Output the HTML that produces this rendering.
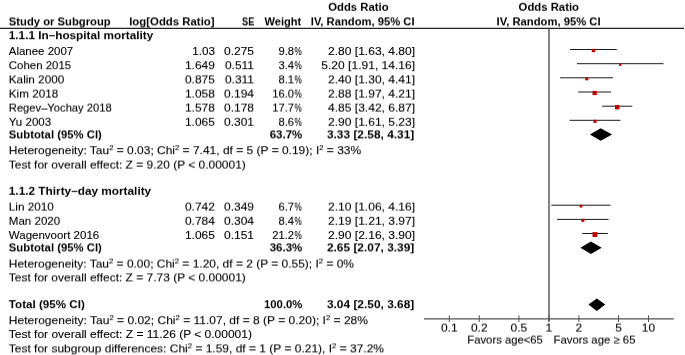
<!DOCTYPE html>
<html><head><meta charset="utf-8"><title>Forest plot</title>
<style>
html,body{margin:0;padding:0;background:#fff;}
body{width:685px;height:355px;overflow:hidden;}
svg{display:block;}
text{font-family:"Liberation Sans",sans-serif;font-size:11.2px;fill:#000;stroke:#000;stroke-width:0.1px;}
.b{font-weight:bold;stroke:none;}
</style></head><body>
<svg width="685" height="355" viewBox="0 0 685 355">
<rect width="685" height="355" fill="#fff"/>

<line x1="0" y1="28.3" x2="684" y2="28.3" stroke="#222" stroke-width="1.15"/>
<line x1="549.0" y1="28.5" x2="549.0" y2="321.5" stroke="#505050" stroke-width="1.4"/>
<line x1="424" y1="318.9" x2="673.8" y2="318.9" stroke="#505050" stroke-width="1.1"/>
<line x1="570.0" y1="49.5" x2="616.8" y2="49.5" stroke="#1a1a1a" stroke-width="1"/>
<rect x="591.78" y="48.84" width="3.32" height="3.32" fill="#c40000"/>
<line x1="576.9" y1="63.7" x2="663.5" y2="63.7" stroke="#1a1a1a" stroke-width="1"/>
<rect x="619.01" y="63.47" width="2.4" height="2.4" fill="#c40000"/>
<line x1="560.2" y1="77.8" x2="613.1" y2="77.8" stroke="#1a1a1a" stroke-width="1"/>
<rect x="585.26" y="77.33" width="3.02" height="3.02" fill="#c40000"/>
<line x1="578.2" y1="92.0" x2="611.1" y2="92.0" stroke="#1a1a1a" stroke-width="1"/>
<rect x="592.54" y="90.89" width="4.24" height="4.24" fill="#c40000"/>
<line x1="602.1" y1="106.2" x2="632.3" y2="106.2" stroke="#1a1a1a" stroke-width="1"/>
<rect x="614.97" y="104.95" width="4.46" height="4.46" fill="#c40000"/>
<line x1="569.5" y1="120.3" x2="620.5" y2="120.3" stroke="#1a1a1a" stroke-width="1"/>
<rect x="593.40" y="119.79" width="3.11" height="3.11" fill="#c40000"/>
<line x1="551.4" y1="205.2" x2="610.6" y2="205.2" stroke="#1a1a1a" stroke-width="1"/>
<rect x="579.62" y="204.83" width="2.74" height="2.74" fill="#c40000"/>
<line x1="557.1" y1="219.4" x2="608.5" y2="219.4" stroke="#1a1a1a" stroke-width="1"/>
<rect x="581.27" y="218.83" width="3.07" height="3.07" fill="#c40000"/>
<line x1="582.2" y1="233.5" x2="607.8" y2="233.5" stroke="#1a1a1a" stroke-width="1"/>
<rect x="592.51" y="232.10" width="4.88" height="4.88" fill="#c40000"/>
<polygon points="589.9,134.4 600.7,128.2 612.1,134.4 600.7,140.7" fill="#000"/>
<polygon points="580.4,247.8 590.9,241.6 601.7,247.8 590.9,254.1" fill="#000"/>
<polygon points="588.5,304.6 596.8,298.4 605.3,304.6 596.8,310.9" fill="#000"/>
<line x1="449.3" y1="315.4" x2="449.3" y2="322.0" stroke="#505050" stroke-width="1"/>
<line x1="479.3" y1="315.4" x2="479.3" y2="322.0" stroke="#505050" stroke-width="1"/>
<line x1="518.9" y1="315.4" x2="518.9" y2="322.0" stroke="#505050" stroke-width="1"/>
<line x1="548.9" y1="315.4" x2="548.9" y2="322.0" stroke="#505050" stroke-width="1"/>
<line x1="578.9" y1="315.4" x2="578.9" y2="322.0" stroke="#505050" stroke-width="1"/>
<line x1="618.5" y1="315.4" x2="618.5" y2="322.0" stroke="#505050" stroke-width="1"/>
<line x1="648.5" y1="315.4" x2="648.5" y2="322.0" stroke="#505050" stroke-width="1"/>
<defs>
<filter id="u4" x="0" y="0" width="685" height="355" filterUnits="userSpaceOnUse" color-interpolation-filters="sRGB"><feConvolveMatrix order="1 3" kernelMatrix="0.4 0.6 0" divisor="1" edgeMode="none" preserveAlpha="false"/></filter>
<filter id="u2" x="0" y="0" width="685" height="355" filterUnits="userSpaceOnUse" color-interpolation-filters="sRGB"><feConvolveMatrix order="1 3" kernelMatrix="0.2 0.8 0" divisor="1" edgeMode="none" preserveAlpha="false"/></filter>
<filter id="z0" x="0" y="0" width="685" height="355" filterUnits="userSpaceOnUse" color-interpolation-filters="sRGB"><feConvolveMatrix order="1 3" kernelMatrix="0 1 0" divisor="1" edgeMode="none" preserveAlpha="false"/></filter>
<filter id="d2" x="0" y="0" width="685" height="355" filterUnits="userSpaceOnUse" color-interpolation-filters="sRGB"><feConvolveMatrix order="1 3" kernelMatrix="0 0.8 0.2" divisor="1" edgeMode="none" preserveAlpha="false"/></filter>
<filter id="d4" x="0" y="0" width="685" height="355" filterUnits="userSpaceOnUse" color-interpolation-filters="sRGB"><feConvolveMatrix order="1 3" kernelMatrix="0 0.6 0.4" divisor="1" edgeMode="none" preserveAlpha="false"/></filter>
</defs>
<g filter="url(#u4)">
<text x="8.8" y="98" textLength="49.4" lengthAdjust="spacingAndGlyphs">Kim 2018</text>
<text x="214.9" y="98" text-anchor="end" textLength="30.0" lengthAdjust="spacingAndGlyphs">1.058</text>
<text x="254.0" y="98" text-anchor="end" textLength="30.0" lengthAdjust="spacingAndGlyphs">0.194</text>
<text x="294.0" y="98" text-anchor="end" textLength="21.8" lengthAdjust="spacingAndGlyphs">16.0</text>
<text x="294.6" y="98" textLength="7.2" lengthAdjust="spacingAndGlyphs">%</text>
<text x="415.1" y="98" text-anchor="end" textLength="87.1" lengthAdjust="spacingAndGlyphs">2.88 [1.97, 4.21]</text>
<text x="8.8" y="112" textLength="102.9" lengthAdjust="spacingAndGlyphs">Regev–Yochay 2018</text>
<text x="214.9" y="112" text-anchor="end" textLength="30.0" lengthAdjust="spacingAndGlyphs">1.578</text>
<text x="254.0" y="112" text-anchor="end" textLength="30.0" lengthAdjust="spacingAndGlyphs">0.178</text>
<text x="294.0" y="112" text-anchor="end" textLength="21.8" lengthAdjust="spacingAndGlyphs">17.7</text>
<text x="294.6" y="112" textLength="7.2" lengthAdjust="spacingAndGlyphs">%</text>
<text x="415.1" y="112" text-anchor="end" textLength="87.1" lengthAdjust="spacingAndGlyphs">4.85 [3.42, 6.87]</text>
<text x="8.8" y="211" textLength="45.1" lengthAdjust="spacingAndGlyphs">Lin 2010</text>
<text x="214.9" y="211" text-anchor="end" textLength="30.0" lengthAdjust="spacingAndGlyphs">0.742</text>
<text x="254.0" y="211" text-anchor="end" textLength="30.0" lengthAdjust="spacingAndGlyphs">0.349</text>
<text x="294.0" y="211" text-anchor="end" textLength="15.6" lengthAdjust="spacingAndGlyphs">6.7</text>
<text x="294.6" y="211" textLength="7.2" lengthAdjust="spacingAndGlyphs">%</text>
<text x="415.1" y="211" text-anchor="end" textLength="87.1" lengthAdjust="spacingAndGlyphs">2.10 [1.06, 4.16]</text>
<text x="8.8" y="169" textLength="237.0" lengthAdjust="spacingAndGlyphs">Test for overall effect: Z = 9.20 (P &lt; 0.00001)</text>
<text x="8.8" y="268" textLength="345.2" lengthAdjust="spacingAndGlyphs">Heterogeneity: Tau<tspan dy="-3.8" font-size="7.2">2</tspan><tspan dy="3.8"> = 0.00; Chi</tspan><tspan dy="-3.8" font-size="7.2">2</tspan><tspan dy="3.8"> = 1.20, df = 2 (P = 0.55); I</tspan><tspan dy="-3.8" font-size="7.2">2</tspan><tspan dy="3.8"> = 0%</tspan></text>
<text x="449.3" y="332" text-anchor="middle" textLength="16.7" lengthAdjust="spacingAndGlyphs">0.1</text>
<text x="479.3" y="332" text-anchor="middle" textLength="16.7" lengthAdjust="spacingAndGlyphs">0.2</text>
<text x="518.9" y="332" text-anchor="middle" textLength="16.7" lengthAdjust="spacingAndGlyphs">0.5</text>
<text x="548.9" y="332" text-anchor="middle" textLength="6.7" lengthAdjust="spacingAndGlyphs">1</text>
<text x="578.9" y="332" text-anchor="middle" textLength="6.7" lengthAdjust="spacingAndGlyphs">2</text>
<text x="618.5" y="332" text-anchor="middle" textLength="6.7" lengthAdjust="spacingAndGlyphs">5</text>
<text x="648.5" y="332" text-anchor="middle" textLength="13.3" lengthAdjust="spacingAndGlyphs">10</text>
<text x="542.9" y="344" text-anchor="end" textLength="75.6" lengthAdjust="spacingAndGlyphs">Favors age&lt;65</text>
<text x="553.5" y="344" textLength="82.0" lengthAdjust="spacingAndGlyphs">Favors age ≥ 65</text>
</g>
<g filter="url(#u2)">
<text x="358.4" y="11" text-anchor="middle" class="b" textLength="60.4" lengthAdjust="spacingAndGlyphs">Odds Ratio</text>
<text x="548.8" y="11" text-anchor="middle" class="b" textLength="60.4" lengthAdjust="spacingAndGlyphs">Odds Ratio</text>
<text x="8.8" y="195" class="b" textLength="142.4" lengthAdjust="spacingAndGlyphs">1.1.2 Thirty–day mortality</text>
<text x="8.8" y="126" textLength="42.4" lengthAdjust="spacingAndGlyphs">Yu 2003</text>
<text x="214.9" y="126" text-anchor="end" textLength="30.0" lengthAdjust="spacingAndGlyphs">1.065</text>
<text x="254.0" y="126" text-anchor="end" textLength="30.0" lengthAdjust="spacingAndGlyphs">0.301</text>
<text x="294.0" y="126" text-anchor="end" textLength="15.6" lengthAdjust="spacingAndGlyphs">8.6</text>
<text x="294.6" y="126" textLength="7.2" lengthAdjust="spacingAndGlyphs">%</text>
<text x="415.1" y="126" text-anchor="end" textLength="87.1" lengthAdjust="spacingAndGlyphs">2.90 [1.61, 5.23]</text>
<text x="8.8" y="225" textLength="51.4" lengthAdjust="spacingAndGlyphs">Man 2020</text>
<text x="214.9" y="225" text-anchor="end" textLength="30.0" lengthAdjust="spacingAndGlyphs">0.784</text>
<text x="254.0" y="225" text-anchor="end" textLength="30.0" lengthAdjust="spacingAndGlyphs">0.304</text>
<text x="294.0" y="225" text-anchor="end" textLength="15.6" lengthAdjust="spacingAndGlyphs">8.4</text>
<text x="294.6" y="225" textLength="7.2" lengthAdjust="spacingAndGlyphs">%</text>
<text x="415.1" y="225" text-anchor="end" textLength="87.1" lengthAdjust="spacingAndGlyphs">2.19 [1.21, 3.97]</text>
</g>
<g filter="url(#z0)">
<text x="8.8" y="55" textLength="64.4" lengthAdjust="spacingAndGlyphs">Alanee 2007</text>
<text x="214.9" y="55" text-anchor="end" textLength="22.7" lengthAdjust="spacingAndGlyphs">1.03</text>
<text x="254.0" y="55" text-anchor="end" textLength="30.0" lengthAdjust="spacingAndGlyphs">0.275</text>
<text x="294.0" y="55" text-anchor="end" textLength="15.6" lengthAdjust="spacingAndGlyphs">9.8</text>
<text x="294.6" y="55" textLength="7.2" lengthAdjust="spacingAndGlyphs">%</text>
<text x="415.1" y="55" text-anchor="end" textLength="87.1" lengthAdjust="spacingAndGlyphs">2.80 [1.63, 4.80]</text>
<text x="8.8" y="239" textLength="90.4" lengthAdjust="spacingAndGlyphs">Wagenvoort 2016</text>
<text x="214.9" y="239" text-anchor="end" textLength="30.0" lengthAdjust="spacingAndGlyphs">1.065</text>
<text x="254.0" y="239" text-anchor="end" textLength="30.0" lengthAdjust="spacingAndGlyphs">0.151</text>
<text x="294.0" y="239" text-anchor="end" textLength="21.8" lengthAdjust="spacingAndGlyphs">21.2</text>
<text x="294.6" y="239" textLength="7.2" lengthAdjust="spacingAndGlyphs">%</text>
<text x="415.1" y="239" text-anchor="end" textLength="87.1" lengthAdjust="spacingAndGlyphs">2.90 [2.16, 3.90]</text>
<text x="8.8" y="338" textLength="243.1" lengthAdjust="spacingAndGlyphs">Test for overall effect: Z = 11.26 (P &lt; 0.00001)</text>
</g>
<g filter="url(#d2)">
<text x="8.8" y="39" class="b" textLength="144.4" lengthAdjust="spacingAndGlyphs">1.1.1 In–hospital mortality</text>
<text x="8.8" y="69" textLength="62.4" lengthAdjust="spacingAndGlyphs">Cohen 2015</text>
<text x="214.9" y="69" text-anchor="end" textLength="30.0" lengthAdjust="spacingAndGlyphs">1.649</text>
<text x="254.0" y="69" text-anchor="end" textLength="29.1" lengthAdjust="spacingAndGlyphs">0.511</text>
<text x="294.0" y="69" text-anchor="end" textLength="15.6" lengthAdjust="spacingAndGlyphs">3.4</text>
<text x="294.6" y="69" textLength="7.2" lengthAdjust="spacingAndGlyphs">%</text>
<text x="415.1" y="69" text-anchor="end" textLength="93.8" lengthAdjust="spacingAndGlyphs">5.20 [1.91, 14.16]</text>
<text x="8.8" y="154" textLength="352.4" lengthAdjust="spacingAndGlyphs">Heterogeneity: Tau<tspan dy="-3.8" font-size="7.2">2</tspan><tspan dy="3.8"> = 0.03; Chi</tspan><tspan dy="-3.8" font-size="7.2">2</tspan><tspan dy="3.8"> = 7.41, df = 5 (P = 0.19); I</tspan><tspan dy="-3.8" font-size="7.2">2</tspan><tspan dy="3.8"> = 33%</tspan></text>
<text x="8.8" y="308" class="b" textLength="76.0" lengthAdjust="spacingAndGlyphs">Total (95% CI)</text>
<text x="302.4" y="308" text-anchor="end" class="b" textLength="38.4" lengthAdjust="spacingAndGlyphs">100.0%</text>
<text x="414.3" y="308" text-anchor="end" class="b" textLength="87.4" lengthAdjust="spacingAndGlyphs">3.04 [2.50, 3.68]</text>
<text x="8.8" y="324" textLength="359.2" lengthAdjust="spacingAndGlyphs">Heterogeneity: Tau<tspan dy="-3.8" font-size="7.2">2</tspan><tspan dy="3.8"> = 0.02; Chi</tspan><tspan dy="-3.8" font-size="7.2">2</tspan><tspan dy="3.8"> = 11.07, df = 8 (P = 0.20); I</tspan><tspan dy="-3.8" font-size="7.2">2</tspan><tspan dy="3.8"> = 28%</tspan></text>
</g>
<g filter="url(#d4)">
<text x="8.8" y="25" class="b" textLength="101.9" lengthAdjust="spacingAndGlyphs">Study or Subgroup</text>
<text x="214.6" y="25" text-anchor="end" class="b" textLength="85.4" lengthAdjust="spacingAndGlyphs">log[Odds Ratio]</text>
<text x="254.4" y="25" text-anchor="end" class="b" textLength="12.3" lengthAdjust="spacingAndGlyphs">SE</text>
<text x="301.2" y="25" text-anchor="end" class="b" textLength="36.7" lengthAdjust="spacingAndGlyphs">Weight</text>
<text x="414.6" y="25" text-anchor="end" class="b" textLength="103.8" lengthAdjust="spacingAndGlyphs">IV, Random, 95% CI</text>
<text x="548.6" y="25" text-anchor="middle" class="b" textLength="104.0" lengthAdjust="spacingAndGlyphs">IV, Random, 95% CI</text>
<text x="8.8" y="83" textLength="55.4" lengthAdjust="spacingAndGlyphs">Kalin 2000</text>
<text x="214.9" y="83" text-anchor="end" textLength="30.0" lengthAdjust="spacingAndGlyphs">0.875</text>
<text x="254.0" y="83" text-anchor="end" textLength="29.1" lengthAdjust="spacingAndGlyphs">0.311</text>
<text x="294.0" y="83" text-anchor="end" textLength="15.6" lengthAdjust="spacingAndGlyphs">8.1</text>
<text x="294.6" y="83" textLength="7.2" lengthAdjust="spacingAndGlyphs">%</text>
<text x="415.1" y="83" text-anchor="end" textLength="87.1" lengthAdjust="spacingAndGlyphs">2.40 [1.30, 4.41]</text>
<text x="8.8" y="138" class="b" textLength="93.0" lengthAdjust="spacingAndGlyphs">Subtotal (95% CI)</text>
<text x="302.4" y="138" text-anchor="end" class="b" textLength="32.7" lengthAdjust="spacingAndGlyphs">63.7%</text>
<text x="414.3" y="138" text-anchor="end" class="b" textLength="87.4" lengthAdjust="spacingAndGlyphs">3.33 [2.58, 4.31]</text>
<text x="8.8" y="251" class="b" textLength="93.0" lengthAdjust="spacingAndGlyphs">Subtotal (95% CI)</text>
<text x="302.4" y="251" text-anchor="end" class="b" textLength="32.7" lengthAdjust="spacingAndGlyphs">36.3%</text>
<text x="414.3" y="251" text-anchor="end" class="b" textLength="87.4" lengthAdjust="spacingAndGlyphs">2.65 [2.07, 3.39]</text>
<text x="8.8" y="281" textLength="237.0" lengthAdjust="spacingAndGlyphs">Test for overall effect: Z = 7.73 (P &lt; 0.00001)</text>
<text x="8.8" y="352" textLength="375.2" lengthAdjust="spacingAndGlyphs">Test for subgroup differences: Chi<tspan dy="-3.8" font-size="7.2">2</tspan><tspan dy="3.8"> = 1.59, df = 1 (P = 0.21), I</tspan><tspan dy="-3.8" font-size="7.2">2</tspan><tspan dy="3.8"> = 37.2%</tspan></text>
</g>
</svg>
</body></html>
